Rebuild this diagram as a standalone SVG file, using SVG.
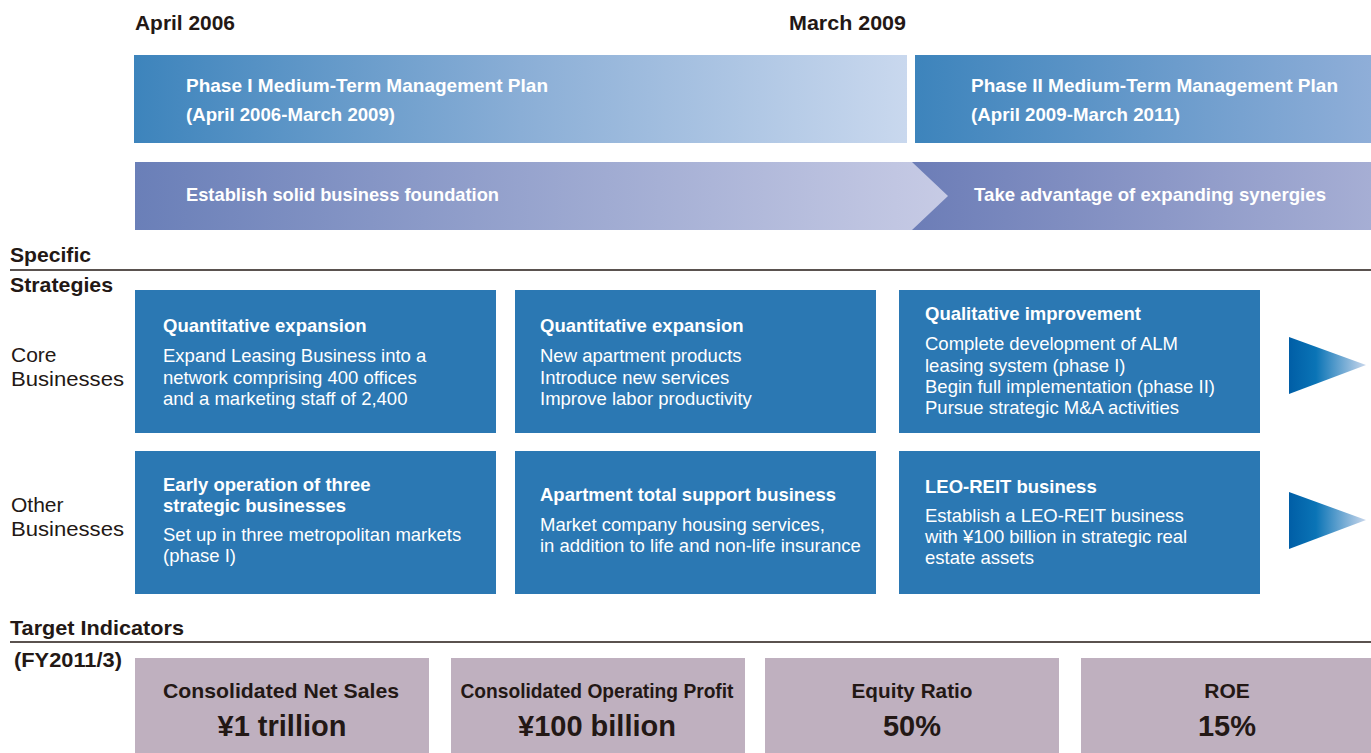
<svg xmlns="http://www.w3.org/2000/svg" width="1371" height="753" viewBox="0 0 1371 753">
<defs>
<linearGradient id="gP1" x1="0" y1="0" x2="1" y2="0"><stop offset="0" stop-color="#3d84bc"/><stop offset="0.5" stop-color="#8aaed6"/><stop offset="1" stop-color="#c9d8ee"/></linearGradient>
<linearGradient id="gP2" x1="0" y1="0" x2="1" y2="0"><stop offset="0" stop-color="#3d84bc"/><stop offset="1" stop-color="#8faed8"/></linearGradient>
<linearGradient id="gB1" x1="0" y1="0" x2="1" y2="0"><stop offset="0" stop-color="#6a7fb8"/><stop offset="1" stop-color="#c7cbe5"/></linearGradient>
<linearGradient id="gB2" x1="0" y1="0" x2="1" y2="0"><stop offset="0" stop-color="#6c7db7"/><stop offset="1" stop-color="#a6aed4"/></linearGradient>
<linearGradient id="gT" x1="0" y1="0" x2="1" y2="0"><stop offset="0" stop-color="#005ea6"/><stop offset="0.35" stop-color="#0a74b6"/><stop offset="1" stop-color="#c9d7ec"/></linearGradient>
<style>
text{font-family:"Liberation Sans",Arial,sans-serif;}
.date{font-size:20px;font-weight:bold;fill:#231815;}
.hw{font-size:19px;font-weight:bold;fill:#ffffff;}
.lab{font-size:21px;font-weight:bold;fill:#231815;}
.side{font-size:21px;fill:#231815;}
.box{fill:#2b78b3;}
.bt{font-size:18.5px;font-weight:bold;fill:#ffffff;}
.bb{font-size:18.5px;fill:#ffffff;}
.tg{fill:#bfb0bf;}
.tn{font-size:21px;font-weight:bold;fill:#231815;text-anchor:middle;}
.tv{font-size:29px;font-weight:bold;fill:#231815;text-anchor:middle;}
.rule{stroke:#231815;stroke-width:1.3;}
</style>
</defs>
<rect width="1371" height="753" fill="#ffffff"/>

<text class="date" x="135" y="30" textLength="100" lengthAdjust="spacingAndGlyphs">April 2006</text>
<text class="date" x="789" y="30" textLength="117" lengthAdjust="spacingAndGlyphs">March 2009</text>

<g id="phase1">
<rect x="134" y="55" width="773" height="88" fill="url(#gP1)"/>
<text class="hw" x="186" y="92" textLength="362" lengthAdjust="spacingAndGlyphs">Phase I Medium-Term Management Plan</text>
<text class="hw" x="186" y="121" textLength="209" lengthAdjust="spacingAndGlyphs">(April 2006-March 2009)</text>
</g>
<g id="phase2">
<rect x="915" y="55" width="456" height="88" fill="url(#gP2)"/>
<text class="hw" x="971" y="92" textLength="367" lengthAdjust="spacingAndGlyphs">Phase II Medium-Term Management Plan</text>
<text class="hw" x="971" y="121" textLength="209" lengthAdjust="spacingAndGlyphs">(April 2009-March 2011)</text>
</g>

<g id="band2">
<rect x="912" y="162" width="459" height="68" fill="url(#gB2)"/>
<text class="hw" x="974" y="201" textLength="352" lengthAdjust="spacingAndGlyphs">Take advantage of expanding synergies</text>
</g>
<g id="band1">
<polygon points="135,162 912,162 948,196 912,230 135,230" fill="url(#gB1)"/>
<text class="hw" x="186" y="201" textLength="313" lengthAdjust="spacingAndGlyphs">Establish solid business foundation</text>
</g>

<text class="lab" x="10" y="262" textLength="81" lengthAdjust="spacingAndGlyphs">Specific</text>
<line class="rule" x1="10" y1="270" x2="1371" y2="270"/>
<text class="lab" x="10" y="292" textLength="103" lengthAdjust="spacingAndGlyphs">Strategies</text>

<text class="side" x="11" y="362">Core</text>
<text class="side" x="11" y="386" textLength="113" lengthAdjust="spacingAndGlyphs">Businesses</text>
<text class="side" x="11" y="512">Other</text>
<text class="side" x="11" y="536" textLength="113" lengthAdjust="spacingAndGlyphs">Businesses</text>

<g id="core1">
<rect class="box" x="135" y="290" width="361" height="143"/>
<text class="bt" x="163" y="332">Quantitative expansion</text>
<text class="bb" x="163" y="362">Expand Leasing Business into a</text>
<text class="bb" x="163" y="384">network comprising 400 offices</text>
<text class="bb" x="163" y="405">and a marketing staff of 2,400</text>
</g>
<g id="core2">
<rect class="box" x="515" y="290" width="361" height="143"/>
<text class="bt" x="540" y="332">Quantitative expansion</text>
<text class="bb" x="540" y="362">New apartment products</text>
<text class="bb" x="540" y="384">Introduce new services</text>
<text class="bb" x="540" y="405">Improve labor productivity</text>
</g>
<g id="core3">
<rect class="box" x="899" y="290" width="361" height="143"/>
<text class="bt" x="925" y="320">Qualitative improvement</text>
<text class="bb" x="925" y="350">Complete development of ALM</text>
<text class="bb" x="925" y="372">leasing system (phase I)</text>
<text class="bb" x="925" y="393">Begin full implementation (phase II)</text>
<text class="bb" x="925" y="414">Pursue strategic M&amp;A activities</text>
</g>
<g id="other1">
<rect class="box" x="135" y="451" width="361" height="143"/>
<text class="bt" x="163" y="491">Early operation of three</text>
<text class="bt" x="163" y="512">strategic businesses</text>
<text class="bb" x="163" y="541">Set up in three metropolitan markets</text>
<text class="bb" x="163" y="562">(phase I)</text>
</g>
<g id="other2">
<rect class="box" x="515" y="451" width="361" height="143"/>
<text class="bt" x="540" y="501">Apartment total support business</text>
<text class="bb" x="540" y="531">Market company housing services,</text>
<text class="bb" x="540" y="552">in addition to life and non-life insurance</text>
</g>
<g id="other3">
<rect class="box" x="899" y="451" width="361" height="143"/>
<text class="bt" x="925" y="493">LEO-REIT business</text>
<text class="bb" x="925" y="522">Establish a LEO-REIT business</text>
<text class="bb" x="925" y="543">with ¥100 billion in strategic real</text>
<text class="bb" x="925" y="564">estate assets</text>
</g>

<g id="arrows">
<polygon points="1289,337 1366,365 1289,394" fill="url(#gT)"/>
<polygon points="1289,492 1366,520 1289,549" fill="url(#gT)"/>
</g>

<text class="lab" x="10" y="635" textLength="174" lengthAdjust="spacingAndGlyphs">Target Indicators</text>
<line class="rule" x1="10" y1="642" x2="1371" y2="642"/>
<text class="lab" x="14" y="667" textLength="108" lengthAdjust="spacingAndGlyphs">(FY2011/3)</text>

<g id="t1">
<rect class="tg" x="135" y="658" width="294" height="95"/>
<text class="tn" x="281" y="698" textLength="236" lengthAdjust="spacingAndGlyphs">Consolidated Net Sales</text>
<text class="tv" x="282" y="736">¥1 trillion</text>
</g>
<g id="t2">
<rect class="tg" x="451" y="658" width="294" height="95"/>
<text class="tn" x="597" y="698" textLength="273" lengthAdjust="spacingAndGlyphs">Consolidated Operating Profit</text>
<text class="tv" x="597" y="736">¥100 billion</text>
</g>
<g id="t3">
<rect class="tg" x="765" y="658" width="294" height="95"/>
<text class="tn" x="912" y="698" textLength="121" lengthAdjust="spacingAndGlyphs">Equity Ratio</text>
<text class="tv" x="912" y="736">50%</text>
</g>
<g id="t4">
<rect class="tg" x="1081" y="658" width="290" height="95"/>
<text class="tn" x="1227" y="698">ROE</text>
<text class="tv" x="1227" y="736">15%</text>
</g>
</svg>
